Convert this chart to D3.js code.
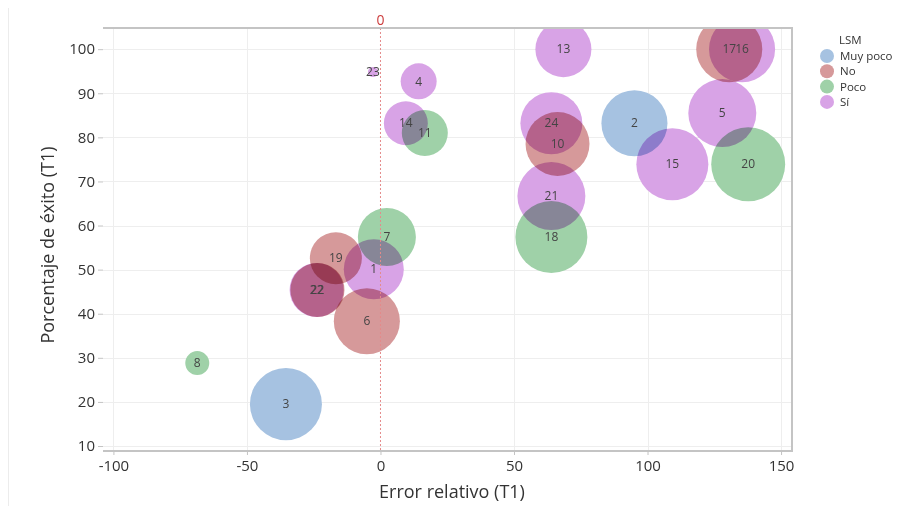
<!DOCTYPE html>
<html>
<head>
<meta charset="utf-8">
<script src="https://cdn.jsdelivr.net/npm/d3@7"></script>
<style>
  html, body { margin: 0; padding: 0; background: #fff; }
  svg { display: block; font-family: "Open Sans", "Noto Sans", sans-serif; }
  .bubble { mix-blend-mode: multiply; }
</style>
</head>
<body>
<svg id="chart" width="906" height="512"></svg>
<script>
// ---- data ----
const ids    = ["1","2","3","4","5","6","7","8","10","11","13","14","15","16","17","18","19","20","21","22","22","23","24"];
const groups = ["Sí","Muy poco","Muy poco","Sí","Sí","No","Poco","Poco","No","Poco","Sí","Sí","Sí","Sí","No","Poco","No","Poco","Sí","Sí","No","Sí","Sí"];
const errorRel = [-2.5, 95.1, -35.4, 14.3, 128, -5.1, 2.4, -68.6, 66.3, 16.6, 68.5, 9.5, 109.3, 135.4, 130.6, 64, -16.7, 137.7, 64, -23.9, -23.6, -2.8, 64];
const exito    = [50.1, 83.2, 19.5, 92.7, 85.5, 38.3, 57.4, 28.8, 78.5, 81, 100, 83.2, 73.9, 100, 100, 57.4, 52.6, 73.9, 66.7, 45.4, 45.4, 94.8, 83.2];
const sizes    = [25, 30.3, 36, 9, 32.1, 30.3, 23.4, 4, 28.4, 14.7, 21.8, 13.4, 36, 30.3, 30.3, 36, 18.8, 38, 32.1, 20.3, 20.3, 0.7, 26.7];
const legendGroups = ["Muy poco","No","Poco","Sí"];
const xTicks = [-100, -50, 0, 50, 100, 150];
const yTicks = [10, 20, 30, 40, 50, 60, 70, 80, 90, 100];

const points = ids.map((id, i) => ({id, group: groups[i], x: errorRel[i], y: exito[i], s: sizes[i]}));

// ---- layout ----
const svg = d3.select("#chart");
const pL = 103, pR = 792, pT = 28, pB = 451;

const x = d3.scaleLinear().domain([-103.9, 154.1]).range([pL, pR]);
const y = d3.scaleLinear().domain([8.87, 104.8]).range([pB, pT]);
const r = d3.scaleSqrt().domain([0, 40]).range([0, 37.95]);
const color = d3.scaleOrdinal().domain(legendGroups).range(["#a6c2e1", "#d6999a", "#9fd1a8", "#d8a3e6"]);

// faint outer frame line
svg.append("line").attr("x1", 8.5).attr("x2", 8.5).attr("y1", 8).attr("y2", 506)
  .attr("stroke", "#ececec").attr("stroke-width", 1);

// gridlines
svg.append("g").selectAll("line").data(yTicks).join("line")
  .attr("x1", pL).attr("x2", pR)
  .attr("y1", d => Math.round(y(d)) + 0.5).attr("y2", d => Math.round(y(d)) + 0.5)
  .attr("stroke", "#eeeeee").attr("stroke-width", 1);
svg.append("g").selectAll("line").data(xTicks.filter(d => d !== 0)).join("line")
  .attr("x1", d => Math.round(x(d)) + 0.5).attr("x2", d => Math.round(x(d)) + 0.5)
  .attr("y1", pT).attr("y2", pB)
  .attr("stroke", "#eeeeee").attr("stroke-width", 1);

// bubbles (clipped)
svg.append("clipPath").attr("id", "plotclip").append("rect")
  .attr("x", pL).attr("y", pT).attr("width", pR - pL).attr("height", pB - pT);

const plot = svg.append("g").attr("clip-path", "url(#plotclip)");
plot.selectAll("circle").data(points).join("circle")
  .attr("class", "bubble")
  .attr("cx", d => x(d.x)).attr("cy", d => y(d.y)).attr("r", d => r(d.s))
  .attr("fill", d => color(d.group));

// reference line at 0
svg.append("line")
  .attr("x1", x(0)).attr("x2", x(0)).attr("y1", pT).attr("y2", pB)
  .attr("stroke", "#e58a8a").attr("stroke-width", 1).attr("stroke-dasharray", "2,2");
svg.append("text").attr("x", x(0)).attr("y", 25).attr("text-anchor", "middle")
  .attr("font-size", 14).attr("fill", "#cc3b3b").text("0");

// labels
plot.selectAll("text").data(points).join("text")
  .attr("x", d => x(d.x)).attr("y", d => y(d.y)).attr("dy", "0.35em")
  .attr("text-anchor", "middle").attr("font-size", 12).attr("fill", "#444")
  .text(d => d.id);

// frame: top, right, bottom
svg.append("path")
  .attr("d", `M${pL},${pT}H${pR}V${pB}H${pL}`)
  .attr("fill", "none").attr("stroke", "#c4c4c4").attr("stroke-width", 2);

// axes
const xAxis = svg.append("g").attr("transform", `translate(0,${pB})`)
  .call(d3.axisBottom(x).tickValues(xTicks).tickSize(4).tickPadding(5).tickFormat(d => String(d)));
const yAxis = svg.append("g").attr("transform", `translate(${pL},0)`)
  .call(d3.axisLeft(y).tickValues(yTicks).tickSize(5).tickPadding(3).tickFormat(d => String(d)));
[xAxis, yAxis].forEach(a => {
  a.select(".domain").remove();
  a.selectAll(".tick line").attr("stroke", "#c4c4c4");
  a.selectAll(".tick text").attr("fill", "#333").attr("font-size", 15)
    .attr("font-family", "'Open Sans', 'Noto Sans', sans-serif");
});

// axis titles
svg.append("text").attr("x", 452).attr("y", 498).attr("text-anchor", "middle")
  .attr("font-size", 18).attr("fill", "#333").text("Error relativo (T1)");
svg.append("text").attr("transform", "translate(54,245) rotate(-90)").attr("text-anchor", "middle")
  .attr("font-size", 18).attr("fill", "#333").text("Porcentaje de éxito (T1)");

// legend
const lg = svg.append("g");
lg.append("text").attr("x", 839).attr("y", 44).attr("font-size", 11.5).attr("fill", "#333").text("LSM");
const items = lg.selectAll("g.item").data(legendGroups).join("g").attr("class", "item")
  .attr("transform", (d, i) => `translate(0,${56 + i * 15.3})`);
items.append("circle").attr("cx", 827).attr("cy", 0).attr("r", 7).attr("fill", d => color(d));
items.append("text").attr("x", 840).attr("y", 0).attr("dy", "0.35em")
  .attr("font-size", 11.5).attr("fill", "#333").text(d => d);
</script>
</body>
</html>
